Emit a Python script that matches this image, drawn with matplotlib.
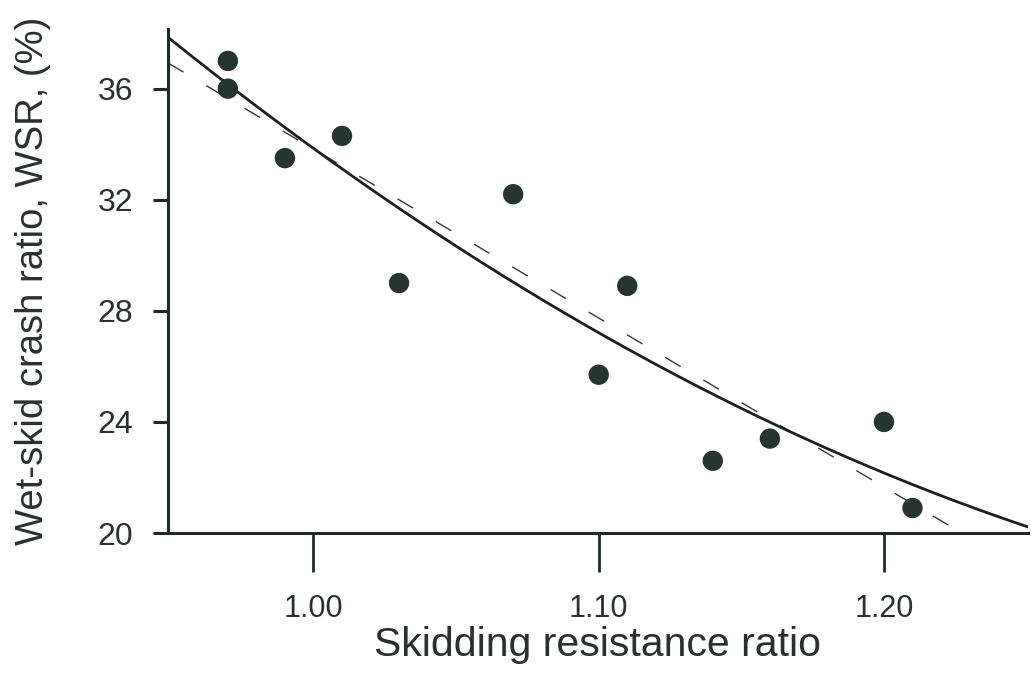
import numpy as np
import matplotlib
matplotlib.use("Agg")
import matplotlib.pyplot as plt

# Observed sites: skidding resistance ratio vs. wet-skid crash ratio (%)
skid_ratio = [0.97, 0.97, 0.99, 1.01, 1.03, 1.07, 1.10, 1.11, 1.14, 1.16, 1.20, 1.21]
wsr_pct = [37.0, 36.0, 33.5, 34.3, 29.0, 32.2, 25.7, 28.9, 22.6, 23.4, 24.0, 20.9]

x_ticks = [1.00, 1.10, 1.20]
x_tick_labels = ["1.00", "1.10", "1.20"]
y_ticks = [20, 24, 28, 32, 36]

plt.rcParams["font.family"] = ["Liberation Sans", "DejaVu Sans"]
plt.rcParams["lines.scale_dashes"] = False

ink = "#1f2a26"
text_col = "#2a302d"
dot_col = "#263530"

fig = plt.figure(figsize=(10.31, 6.74), dpi=100)
W, H = 1031, 674
ax = fig.add_axes([168 / W, 1 - 533 / H, 860 / W, 504 / H])

x = np.asarray(skid_ratio)
y = np.asarray(wsr_pct)

xlim = (0.949, 1.2505)
ylim = (20, 38.15)

# Least-squares fits: quadratic (solid) and linear (dashed)
quad = np.polyfit(x, y, 2)
lin = np.polyfit(x, y, 1)
xs = np.linspace(xlim[0], xlim[1], 400)

ax.plot(xs, np.polyval(lin, xs), color="#333836", lw=1.0,
        linestyle=(0, (13, 19)), zorder=2)
ax.plot(xs, np.polyval(quad, xs), color="#1c1f1e", lw=2.0, zorder=3)
ax.scatter(x, y, s=215, color=dot_col, edgecolors="none", zorder=4)

ax.set_xlim(*xlim)
ax.set_ylim(*ylim)

ax.set_xticks(x_ticks)
ax.set_xticklabels(x_tick_labels)
ax.set_yticks(y_ticks)

for side in ("top", "right"):
    ax.spines[side].set_visible(False)
for side in ("left", "bottom"):
    ax.spines[side].set_linewidth(2.2)
    ax.spines[side].set_color(ink)

ax.tick_params(axis="x", direction="out", length=28, width=2.0, pad=16,
               colors=ink, labelcolor=text_col, labelsize=22)
ax.tick_params(axis="y", direction="out", length=11, width=2.2, pad=14,
               colors=ink, labelcolor=text_col, labelsize=23)

ax.set_xlabel("Skidding resistance ratio", fontsize=29.5, color=text_col)
ax.set_ylabel("Wet-skid crash ratio, WSR, (%)", fontsize=27.5, color=text_col)
ax.xaxis.set_label_coords(0.5, -0.185)
ax.yaxis.set_label_coords(-0.136, 0.5)

fig.savefig("out.png", dpi=100, facecolor="white")
